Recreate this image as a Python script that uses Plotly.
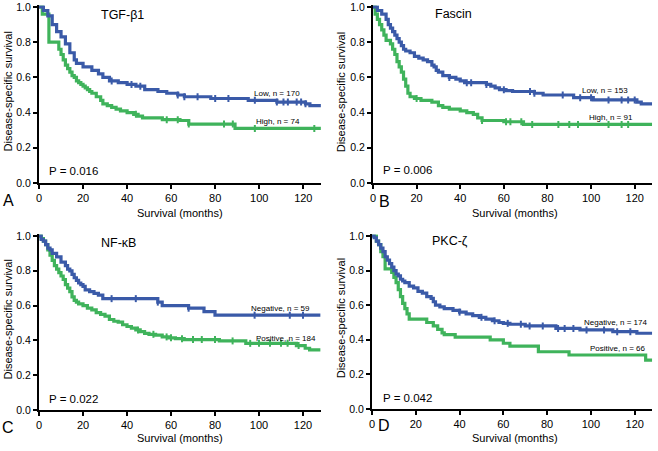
import numpy as np
import plotly.graph_objects as go

W, H = 658, 451

# ---------------- data ----------------
# Panel A: TGF-beta1
a_low_t = [0, 2, 4, 6, 8, 10, 12, 14, 16, 17, 20, 24, 27, 29, 32, 36, 40, 44, 48, 54, 58, 63, 66, 78, 95, 108, 121, 123, 128]
a_low_s = [1.0, 0.98, 0.95, 0.90, 0.86, 0.83, 0.79, 0.74, 0.70, 0.68, 0.66, 0.64, 0.62, 0.60, 0.58, 0.57, 0.56, 0.55, 0.53, 0.52, 0.51, 0.50, 0.49, 0.48, 0.47, 0.46, 0.45, 0.44, 0.44]
a_low_c = [33, 42, 46, 63, 66, 72, 80, 86, 98, 108, 111, 113, 117, 119, 121]
a_high_t = [0, 1.5, 4.5, 9, 10, 11, 12, 13, 14, 15, 16, 17, 18, 19, 20, 21, 22, 23, 24, 26, 28, 29, 31, 33, 35, 37, 40, 43, 45, 47, 56, 64, 68, 89, 128]
a_high_s = [1.0, 0.96, 0.80, 0.76, 0.73, 0.70, 0.67, 0.65, 0.63, 0.61, 0.60, 0.58, 0.57, 0.56, 0.55, 0.54, 0.53, 0.52, 0.51, 0.49, 0.47, 0.45, 0.44, 0.43, 0.42, 0.41, 0.40, 0.39, 0.38, 0.37, 0.36, 0.355, 0.335, 0.31, 0.31]
a_high_c = [44, 58, 63, 68, 84, 88, 98, 125]

# Panel B: Fascin
b_low_t = [0, 2, 4, 6, 7, 8, 9, 10, 11, 12, 13, 14, 15, 17, 19, 21, 23, 25, 27, 28, 29, 30, 32, 35, 38, 40, 42, 52, 54, 56, 58, 61, 64, 74, 78, 92, 101, 121, 123, 128]
b_low_s = [1.0, 0.98, 0.96, 0.93, 0.90, 0.88, 0.86, 0.84, 0.82, 0.80, 0.78, 0.76, 0.75, 0.74, 0.72, 0.71, 0.70, 0.69, 0.67, 0.66, 0.64, 0.63, 0.61, 0.60, 0.59, 0.58, 0.57, 0.56, 0.55, 0.54, 0.53, 0.525, 0.52, 0.51, 0.50, 0.485, 0.472, 0.46, 0.45, 0.45]
b_low_c = [35, 43, 45, 52, 60, 72, 74, 87, 95, 100, 108, 114, 117, 120]
b_high_t = [0, 1, 2, 3, 4, 5, 6, 8, 9, 10, 11, 12, 13, 14, 15, 16, 17, 19, 22, 27, 30, 32, 35, 40, 43, 46, 48, 50, 60, 69, 128]
b_high_s = [1.0, 0.96, 0.93, 0.90, 0.87, 0.84, 0.81, 0.79, 0.76, 0.73, 0.69, 0.66, 0.63, 0.59, 0.55, 0.51, 0.49, 0.48, 0.47, 0.46, 0.44, 0.43, 0.42, 0.41, 0.40, 0.39, 0.37, 0.355, 0.348, 0.333, 0.333]
b_high_c = [20, 50, 61, 63, 68, 73, 85, 90, 94, 108, 114, 117]

# Panel C: NF-kB
c_neg_t = [0, 1, 2, 3, 4, 5, 6, 8, 10, 12, 13, 14, 15, 16, 17, 18, 19, 20, 21, 23, 25, 27, 29, 54, 56, 68, 75, 80, 128]
c_neg_s = [1.0, 0.98, 0.97, 0.95, 0.93, 0.92, 0.90, 0.88, 0.85, 0.83, 0.81, 0.80, 0.78, 0.76, 0.745, 0.73, 0.72, 0.71, 0.69, 0.68, 0.67, 0.66, 0.64, 0.62, 0.60, 0.585, 0.565, 0.545, 0.545]
c_neg_c = [33, 44, 54, 68, 98, 114, 120]
c_pos_t = [0, 1, 2, 3, 4, 5, 6, 7, 8, 9, 10, 11, 12, 13, 14, 15, 16, 17, 18, 20, 22, 24, 26, 28, 30, 32, 34, 36, 38, 40, 42, 44, 46, 48, 50, 53, 56, 59, 62, 66, 82, 94, 117, 121, 123, 128]
c_pos_s = [1.0, 0.985, 0.97, 0.95, 0.92, 0.89, 0.86, 0.83, 0.81, 0.79, 0.77, 0.75, 0.72, 0.70, 0.68, 0.65, 0.63, 0.62, 0.61, 0.60, 0.585, 0.575, 0.56, 0.55, 0.54, 0.52, 0.51, 0.505, 0.49, 0.48, 0.47, 0.46, 0.45, 0.44, 0.435, 0.43, 0.42, 0.415, 0.41, 0.405, 0.397, 0.383, 0.37, 0.355, 0.345, 0.345]
c_pos_c = [45, 52, 58, 60, 65, 70, 74, 80, 88, 96, 100, 105, 110, 113, 118]

# Panel D: PKC-zeta
d_neg_t = [0, 1, 2, 3, 4, 5, 6, 7, 8, 9, 10, 11, 12, 13, 14, 15, 17, 19, 21, 23, 25, 27, 28, 29, 31, 33, 37, 40, 43, 46, 49, 52, 55, 58, 60, 63, 70, 84, 95, 110, 121, 128]
d_neg_s = [1.0, 0.99, 0.97, 0.95, 0.93, 0.91, 0.88, 0.86, 0.84, 0.82, 0.80, 0.78, 0.77, 0.75, 0.74, 0.73, 0.71, 0.70, 0.68, 0.67, 0.65, 0.64, 0.62, 0.60, 0.59, 0.58, 0.57, 0.56, 0.55, 0.54, 0.53, 0.52, 0.51, 0.50, 0.495, 0.49, 0.48, 0.466, 0.457, 0.447, 0.438, 0.438]
d_neg_c = [40, 50, 56, 62, 68, 72, 78, 85, 88, 92, 98, 106, 112, 118]
d_pos_t = [0, 2, 3, 4, 5, 6, 9, 10, 11, 12, 13, 14, 15, 16, 17, 25, 28, 30, 32, 33, 38, 54, 60, 63, 76, 90, 125, 128]
d_pos_s = [1.0, 0.97, 0.95, 0.91, 0.88, 0.81, 0.79, 0.76, 0.73, 0.69, 0.65, 0.61, 0.58, 0.55, 0.52, 0.50, 0.48, 0.46, 0.44, 0.43, 0.415, 0.40, 0.38, 0.364, 0.331, 0.312, 0.283, 0.283]
d_pos_c = []

x_ticks = [0, 20, 40, 60, 80, 100, 120]
y_ticks = [0.0, 0.2, 0.4, 0.6, 0.8, 1.0]

BLUE = "#3a5aa8"
GREEN = "#3fb35b"
FONT = "Liberation Sans, Arial, sans-serif"

panels = [
    dict(key="A", title="TGF-β1", p="P = 0.016",
         s1=(a_low_t, a_low_s, a_low_c), s2=(a_high_t, a_high_s, a_high_c),
         l1="Low, n = 170", l2="High, n = 74",
         px0=39, px120=303.3, py0=183, py1=7,
         title_xy=(37.7, 0.955), p_xy=(3.5, 0.07), l1_xy=(119.5, 0.51), l2_xy=(119.2, 0.347),
         letter=(8, 200), xt=(180, 213), yt=(7.5, 92)),
    dict(key="B", title="Fascin", p="P = 0.006",
         s1=(b_low_t, b_low_s, b_low_c), s2=(b_high_t, b_high_s, b_high_c),
         l1="Low, n = 153", l2="High, n = 91",
         px0=373, px120=634.7, py0=183, py1=7,
         title_xy=(36.7, 0.96), p_xy=(3.8, 0.074), l1_xy=(117.7, 0.528), l2_xy=(120, 0.375),
         letter=(384, 201), xt=(514.7, 213), yt=(341.3, 92)),
    dict(key="C", title="NF-κB", p="P = 0.022",
         s1=(c_neg_t, c_neg_s, c_neg_c), s2=(c_pos_t, c_pos_s, c_pos_c),
         l1="Negative, n = 59", l2="Positive, n = 184",
         px0=39, px120=303, py0=410, py1=236,
         title_xy=(36, 0.96), p_xy=(3.5, 0.063), l1_xy=(124, 0.585), l2_xy=(126.8, 0.41),
         letter=(8, 427), xt=(180, 438.3), yt=(7.5, 320)),
    dict(key="D", title="PKC-ζ", p="P = 0.042",
         s1=(d_neg_t, d_neg_s, d_neg_c), s2=(d_pos_t, d_pos_s, d_pos_c),
         l1="Negative, n = 174", l2="Positive, n = 66",
         px0=372, px120=634.7, py0=409, py1=236,
         title_xy=(35.5, 0.97), p_xy=(4.2, 0.062), l1_xy=(126.5, 0.50), l2_xy=(125.7, 0.35),
         letter=(384, 425), xt=(514.7, 437.7), yt=(341.3, 318)),
]

XMAX = 128
YMAX = 1.01


def step_value(t, s, c):
    t = np.asarray(t, float)
    s = np.asarray(s, float)
    idx = np.searchsorted(t, np.asarray(c, float), side="right") - 1
    return s[np.clip(idx, 0, len(s) - 1)]


fig = go.Figure()
layout = dict(width=W, height=H, margin=dict(l=0, r=0, t=0, b=0, autoexpand=False),
              paper_bgcolor="white", plot_bgcolor="white", showlegend=False,
              font=dict(family=FONT, color="black"))
annotations = []

for i, pn in enumerate(panels, start=1):
    sx = "" if i == 1 else str(i)
    xa, ya = "x" + sx, "y" + sx
    pxmax = pn["px0"] + XMAX * (pn["px120"] - pn["px0"]) / 120
    ytop = pn["py0"] - YMAX * (pn["py0"] - pn["py1"])
    layout["xaxis" + sx] = dict(
        domain=[pn["px0"] / W, pxmax / W], range=[0, XMAX], anchor=ya,
        tickvals=x_ticks, ticks="outside", ticklen=4, tickwidth=2, tickcolor="black",
        showline=True, linewidth=2, linecolor="black", showgrid=False, zeroline=False,
        automargin=False,
        tickfont=dict(size=11, family=FONT, color="black"), fixedrange=True)
    layout["yaxis" + sx] = dict(
        domain=[1 - pn["py0"] / H, 1 - ytop / H], range=[0, YMAX], anchor=xa,
        tickvals=y_ticks, tickformat=".1f", ticks="outside", ticklen=4, tickwidth=2,
        tickcolor="black", showline=True, linewidth=2, linecolor="black",
        showgrid=False, zeroline=False, automargin=False,
        tickfont=dict(size=10.5, family=FONT, color="black"), fixedrange=True)

    for (t, s, c), col in ((pn["s2"], GREEN), (pn["s1"], BLUE)):
        fig.add_trace(go.Scatter(x=t, y=s, mode="lines", line=dict(color=col, width=3.2, shape="hv"),
                                 xaxis=xa, yaxis=ya, hoverinfo="skip"))
        if len(c):
            fig.add_trace(go.Scatter(x=c, y=step_value(t, s, c), mode="markers",
                                     marker=dict(symbol="line-ns-open", size=5, color=col,
                                                 line=dict(color=col, width=2)),
                                     xaxis=xa, yaxis=ya, hoverinfo="skip"))

    annotations += [
        dict(x=pn["title_xy"][0], y=pn["title_xy"][1], xref=xa, yref=ya, text=pn["title"],
             showarrow=False, xanchor="center", yanchor="middle",
             font=dict(size=12.5, color="black")),
        dict(x=pn["p_xy"][0], y=pn["p_xy"][1], xref=xa, yref=ya, text=pn["p"],
             showarrow=False, xanchor="left", yanchor="middle",
             font=dict(size=11.5, color="black")),
        dict(x=pn["l1_xy"][0], y=pn["l1_xy"][1], xref=xa, yref=ya, text=pn["l1"],
             showarrow=False, xanchor="right", yanchor="middle",
             font=dict(size=8, color="black")),
        dict(x=pn["l2_xy"][0], y=pn["l2_xy"][1], xref=xa, yref=ya, text=pn["l2"],
             showarrow=False, xanchor="right", yanchor="middle",
             font=dict(size=8, color="black")),
        dict(x=pn["letter"][0] / W, y=1 - pn["letter"][1] / H, xref="paper", yref="paper",
             text=pn["key"], showarrow=False, xanchor="center", yanchor="middle",
             font=dict(size=16, color="black")),
        dict(x=pn["xt"][0] / W, y=1 - pn["xt"][1] / H, xref="paper", yref="paper",
             text="Survival (months)", showarrow=False, xanchor="center", yanchor="middle",
             font=dict(size=11, color="black")),
        dict(x=pn["yt"][0] / W, y=1 - pn["yt"][1] / H, xref="paper", yref="paper",
             text="Disease-specific survival", showarrow=False, textangle=-90,
             xanchor="center", yanchor="middle", font=dict(size=11, color="black")),
    ]

layout["annotations"] = annotations
fig.update_layout(**layout)
fig.write_html("out.html", config={"displayModeBar": False},
               post_script="document.body.style.margin='0';document.body.style.padding='0';")
